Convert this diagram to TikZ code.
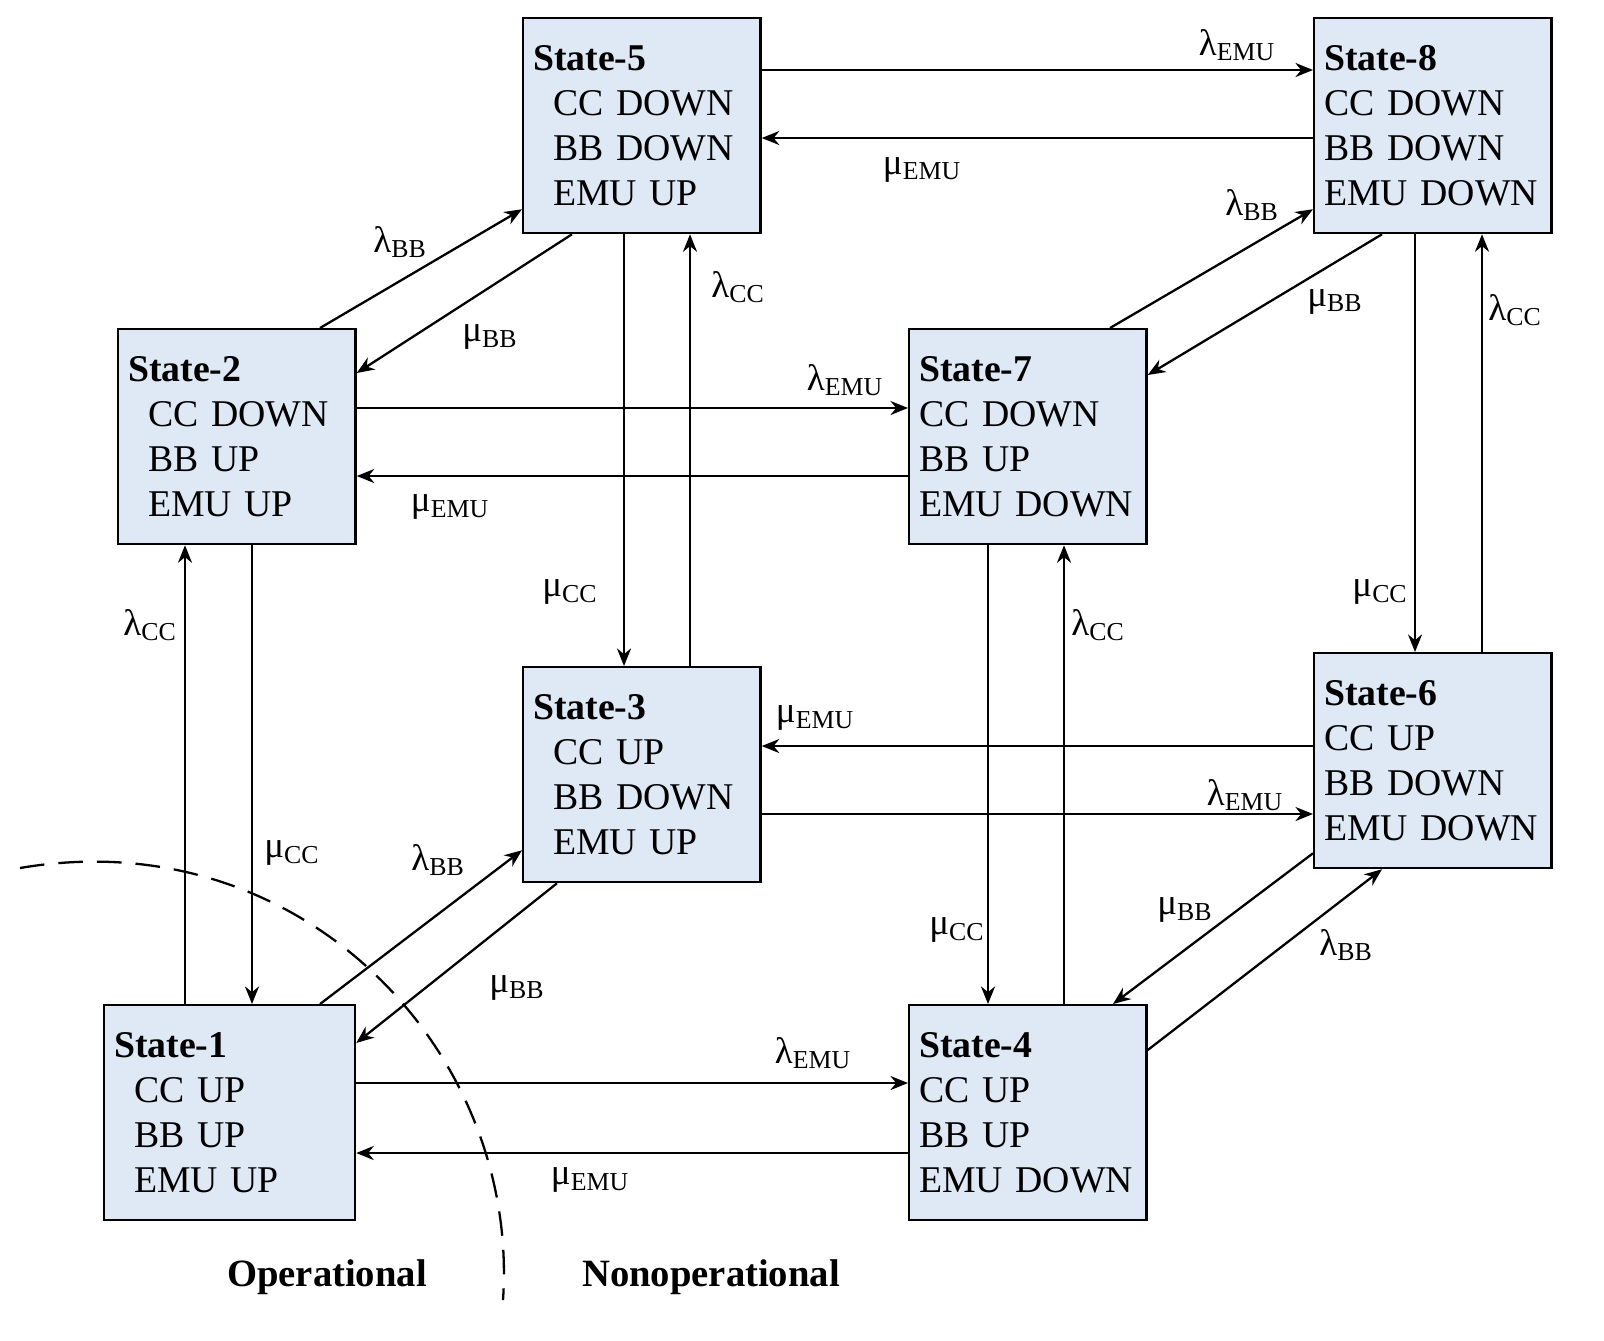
\documentclass[tikz,border=0pt]{standalone}
\usepackage{fontspec}
\setmainfont{Liberation Serif}
\usetikzlibrary{arrows.meta}
\definecolor{boxfill}{RGB}{222,233,245}
\begin{document}
\begin{tikzpicture}
        [
            x=0.02cm, y=-0.02cm,
            >={Stealth[length=10pt,width=8pt]},
            thick,
            state/.style={draw, line width=1.3pt, fill=boxfill, align=left, anchor=north west,
                inner xsep=0pt, inner ysep=0pt, text width=4.35cm, font=\fontsize{21.5}{25.5}\selectfont},
            lbl/.style={font=\fontsize{21}{24}\selectfont},
            tr/.style={->, line width=1.3pt}
        ]
        \useasboundingbox (0,0) rectangle (1604,1340);
        % boxes
        \node[state, minimum width=4.75cm, minimum height=4.3cm] (s5) at (522,17) {\textbf{State-5}\\\hspace{0.4cm}CC DOWN\\\hspace{0.4cm}BB DOWN\\\hspace{0.4cm}EMU UP};
        \node[state, minimum width=4.75cm, minimum height=4.3cm] (s8) at (1313,17) {\textbf{State-8}\\CC DOWN\\BB DOWN\\EMU DOWN};
        \node[state, minimum width=4.75cm, minimum height=4.3cm] (s2) at (117,328) {\textbf{State-2}\\\hspace{0.4cm}CC DOWN\\\hspace{0.4cm}BB UP\\\hspace{0.4cm}EMU UP};
        \node[state, minimum width=4.75cm, minimum height=4.3cm] (s7) at (908,328) {\textbf{State-7}\\CC DOWN\\BB UP\\EMU DOWN};
        \node[state, minimum width=4.75cm, minimum height=4.3cm] (s3) at (522,666) {\textbf{State-3}\\\hspace{0.4cm}CC UP\\\hspace{0.4cm}BB DOWN\\\hspace{0.4cm}EMU UP};
        \node[state, minimum width=4.75cm, minimum height=4.3cm] (s6) at (1313,652) {\textbf{State-6}\\CC UP\\BB DOWN\\EMU DOWN};
        \node[state, minimum width=5.02cm, minimum height=4.3cm, text width=4.62cm] (s1) at (103,1004) {\textbf{State-1}\\\hspace{0.4cm}CC UP\\\hspace{0.4cm}BB UP\\\hspace{0.4cm}EMU UP};
        \node[state, minimum width=4.75cm, minimum height=4.3cm] (s4) at (908,1004) {\textbf{State-4}\\CC UP\\BB UP\\EMU DOWN};

        % transitions
        \draw[tr] ([shift={(0,53)}]s5.north east) -- ([shift={(0,53)}]s8.north west);
        \draw[tr] ([shift={(0,121)}]s8.north west) -- ([shift={(0,121)}]s5.north east);
        \draw[tr] ([shift={(203,0)}]s2.north west) -- ([shift={(0,-25)}]s5.south west);
        \draw[tr] ([shift={(50,0)}]s5.south west) -- ([shift={(0,45)}]s2.north east);
        \draw[tr] ([shift={(0,80)}]s2.north east) -- ([shift={(0,80)}]s7.north west);
        \draw[tr] ([shift={(0,148)}]s7.north west) -- ([shift={(0,148)}]s2.north east);
        \draw[tr] ([shift={(102,0)}]s5.south west) -- ([shift={(102,0)}]s3.north west);
        \draw[tr] ([shift={(168,0)}]s3.north west) -- ([shift={(168,0)}]s5.south west);
        \draw[tr] ([shift={(135,0)}]s2.south west) -- ([shift={(149,0)}]s1.north west);
        \draw[tr] ([shift={(82,0)}]s1.north west) -- ([shift={(68,0)}]s2.south west);
        \draw[tr] ([shift={(202,0)}]s7.north west) -- ([shift={(0,-25)}]s8.south west);
        \draw[tr] ([shift={(69,0)}]s8.south west) -- ([shift={(0,47)}]s7.north east);
        \draw[tr] ([shift={(102,0)}]s8.south west) -- ([shift={(102,0)}]s6.north west);
        \draw[tr] ([shift={(169,0)}]s6.north west) -- ([shift={(169,0)}]s8.south west);
        \draw[tr] ([shift={(80,0)}]s7.south west) -- ([shift={(80,0)}]s4.north west);
        \draw[tr] ([shift={(156,0)}]s4.north west) -- ([shift={(156,0)}]s7.south west);
        \draw[tr] ([shift={(0,94)}]s6.north west) -- ([shift={(0,80)}]s3.north east);
        \draw[tr] ([shift={(0,148)}]s3.north east) -- ([shift={(0,162)}]s6.north west);
        \draw[tr] ([shift={(217,0)}]s1.north west) -- ([shift={(0,-33)}]s3.south west);
        \draw[tr] ([shift={(35,0)}]s3.south west) -- ([shift={(0,39)}]s1.north east);
        \draw[tr] ([shift={(0,79)}]s1.north east) -- ([shift={(0,79)}]s4.north west);
        \draw[tr] ([shift={(0,149)}]s4.north west) -- ([shift={(0,149)}]s1.north east);
        \draw[tr] ([shift={(0,-16)}]s6.south west) -- ([shift={(205,0)}]s4.north west);
        \draw[tr] ([shift={(0,46)}]s4.north east) -- ([shift={(69,0)}]s6.south west);

        % rates
        \node[lbl] (l58) at (1237,45) {λ\textsubscript{EMU}};
        \node[lbl] (m85) at (922,170) {μ\textsubscript{EMU}};
        \node[lbl] (l25) at (400,242) {λ\textsubscript{BB}};
        \node[lbl] (m52) at (490,337) {μ\textsubscript{BB}};
        \node[lbl] (l27) at (845,380) {λ\textsubscript{EMU}};
        \node[lbl] (m72) at (450,507) {μ\textsubscript{EMU}};
        \node[lbl] (m53) at (570,592) {μ\textsubscript{CC}};
        \node[lbl] (l35) at (738,287) {λ\textsubscript{CC}};
        \node[lbl] (m21) at (292,853) {μ\textsubscript{CC}};
        \node[lbl] (l12) at (150,625) {λ\textsubscript{CC}};
        \node[lbl] (l78) at (1252,205) {λ\textsubscript{BB}};
        \node[lbl] (m87) at (1335,302) {μ\textsubscript{BB}};
        \node[lbl] (m86) at (1380,592) {μ\textsubscript{CC}};
        \node[lbl] (l68) at (1515,310) {λ\textsubscript{CC}};
        \node[lbl] (m74) at (957,930) {μ\textsubscript{CC}};
        \node[lbl] (l47) at (1098,625) {λ\textsubscript{CC}};
        \node[lbl] (m63) at (815,718) {μ\textsubscript{EMU}};
        \node[lbl] (l36) at (1245,795) {λ\textsubscript{EMU}};
        \node[lbl] (l13) at (438,860) {λ\textsubscript{BB}};
        \node[lbl] (m31) at (517,988) {μ\textsubscript{BB}};
        \node[lbl] (l14) at (813,1053) {λ\textsubscript{EMU}};
        \node[lbl] (m41) at (590,1180) {μ\textsubscript{EMU}};
        \node[lbl] (m64) at (1185,910) {μ\textsubscript{BB}};
        \node[lbl] (l46) at (1346,945) {λ\textsubscript{BB}};

        % boundary
        \draw[line width=1.3pt, dash pattern=on 14pt off 8pt] (20,868) .. controls (300,820) and (520,1050) .. (503,1300);
        \node[lbl, font=\fontsize{22}{26}\selectfont\bfseries] (op) at (327,1277) {Operational};
        \node[lbl, font=\fontsize{22}{26}\selectfont\bfseries] (nop) at (711,1277) {Nonoperational};
    \end{tikzpicture}
\end{document}
